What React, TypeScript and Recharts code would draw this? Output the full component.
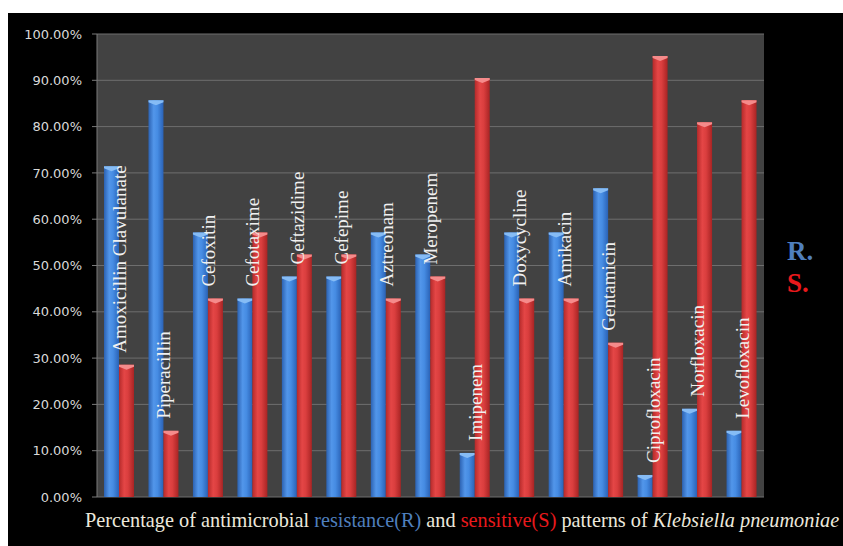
import React from 'react';
import { BarChart, Bar, XAxis, YAxis, CartesianGrid, LabelList } from 'recharts';

// Antimicrobial agents tested against Klebsiella pneumoniae isolates
const drugs = [
  'Amoxicillin Clavulanate',
  'Piperacillin',
  'Cefoxitin',
  'Cefotaxime',
  'Ceftazidime',
  'Cefepime',
  'Aztreonam',
  'Meropenem',
  'Imipenem',
  'Doxycycline',
  'Amikacin',
  'Gentamicin',
  'Ciprofloxacin',
  'Norfloxacin',
  'Levofloxacin',
];

// Percentage of resistant (R) isolates per agent
const resistance = [71.43, 85.71, 57.14, 42.86, 47.62, 47.62, 57.14, 52.38, 9.52, 57.14, 57.14, 66.67, 4.76, 19.05, 14.29];

// Percentage of sensitive (S) isolates per agent
const sensitive = [28.57, 14.29, 42.86, 57.14, 52.38, 52.38, 42.86, 47.62, 90.48, 42.86, 42.86, 33.33, 95.24, 80.95, 85.71];

const percentTicks = [0, 10, 20, 30, 40, 50, 60, 70, 80, 90, 100];

const chartData = drugs.map((drug, i) => ({ drug, R: resistance[i], S: sensitive[i] }));

const SERIF = "'Liberation Serif', 'Times New Roman', serif";
const BLUE_TEXT = '#4f7fbd';
const RED_TEXT = '#e8191c';

// Rounded-looking column: horizontal gradient body with a lighter bevelled cap
const makeColumn = (gradientId: string, capColor: string) => (props: any) => {
  const { x, y, width, height } = props;
  if (!height || height <= 0) return null;
  const cap = Math.min(5, height);
  return (
    <g>
      <rect x={x} y={y} width={width} height={height} fill={`url(#${gradientId})`} />
      <path
        d={`M${x},${y} L${x + width},${y} L${x + width},${y + cap * 0.4} L${x + width / 2},${y + cap} L${x},${y + cap * 0.4} Z`}
        fill={capColor}
      />
    </g>
  );
};

const BlueColumn = makeColumn('gradBlue', '#86bcf5');
const RedColumn = makeColumn('gradRed', '#f58b8b');

// Vertical drug name placed above the shorter column of each pair
const DrugLabel = (props: any) => {
  const vb = props.viewBox && props.viewBox.width !== undefined ? props.viewBox : props;
  const x = Number(vb.x);
  const y = Number(vb.y);
  const height = Number(vb.height);
  const i = drugs.indexOf(props.value);
  if (i < 0 || !isFinite(x) || !isFinite(y) || !height) return null;
  const s = sensitive[i];
  const lower = Math.min(resistance[i], s);
  const bottom = y + height;
  const perUnit = height / s;
  const top = bottom - lower * perUnit;
  const tx = x + 7;
  const ty = top - 12;
  return (
    <text
      x={tx}
      y={ty}
      transform={`rotate(-90, ${tx}, ${ty})`}
      textAnchor="start"
      fill="#f0f0f0"
      fontSize={19}
      fontFamily={SERIF}
    >
      {drugs[i]}
    </text>
  );
};

export default function App() {
  return (
    <div
      style={{
        position: 'absolute',
        left: 8,
        top: 13,
        width: 835,
        height: 533,
        background: '#000',
        overflow: 'hidden',
      }}
    >
      <BarChart
        width={835}
        height={533}
        data={chartData}
        margin={{ top: 21, right: 79, bottom: 49, left: 0 }}
        barGap={0}
        barSize={15}
      >
        <defs>
          <linearGradient id="gradBlue" x1="0" y1="0" x2="1" y2="0">
            <stop offset="0%" stopColor="#2c62b2" />
            <stop offset="35%" stopColor="#5296ea" />
            <stop offset="60%" stopColor="#468ce3" />
            <stop offset="100%" stopColor="#2a62b6" />
          </linearGradient>
          <linearGradient id="gradRed" x1="0" y1="0" x2="1" y2="0">
            <stop offset="0%" stopColor="#b52a2a" />
            <stop offset="35%" stopColor="#e44646" />
            <stop offset="60%" stopColor="#da3e3e" />
            <stop offset="100%" stopColor="#a82424" />
          </linearGradient>
        </defs>
        <CartesianGrid vertical={false} stroke="#6e6e6e" fill="#424242" fillOpacity={1} />
        <XAxis dataKey="drug" hide />
        <YAxis
          width={89}
          domain={[0, 100]}
          ticks={percentTicks}
          interval={0}
          tickFormatter={(v: number) => `${v.toFixed(2)}%`}
          tick={{ fill: '#d9d9d9', fontSize: 13, fontFamily: "'DejaVu Sans', sans-serif" }}
          axisLine={{ stroke: '#7a7a7a' }}
          tickLine={{ stroke: '#7a7a7a' }}
          tickSize={5}
          tickMargin={10}
        />
        <Bar dataKey="R" shape={BlueColumn} isAnimationActive={false} />
        <Bar dataKey="S" shape={RedColumn} isAnimationActive={false}>
          <LabelList dataKey="drug" content={DrugLabel} />
        </Bar>
      </BarChart>

      <div
        style={{
          position: 'absolute',
          left: 779,
          top: 225,
          fontFamily: SERIF,
          fontWeight: 'bold',
          fontSize: 27,
          lineHeight: '27px',
          color: BLUE_TEXT,
        }}
      >
        R.
      </div>
      <div
        style={{
          position: 'absolute',
          left: 779,
          top: 257,
          fontFamily: SERIF,
          fontWeight: 'bold',
          fontSize: 27,
          lineHeight: '27px',
          color: RED_TEXT,
        }}
      >
        S.
      </div>

      <div
        style={{
          position: 'absolute',
          left: 77,
          top: 497,
          whiteSpace: 'nowrap',
          fontFamily: SERIF,
          fontSize: 20.3,
          lineHeight: '20px',
          color: '#ece8dc',
        }}
      >
        Percentage of antimicrobial <span style={{ color: BLUE_TEXT }}>resistance(R)</span> and{' '}
        <span style={{ color: RED_TEXT }}>sensitive(S)</span> patterns of <i>Klebsiella pneumoniae</i>
      </div>
    </div>
  );
}
